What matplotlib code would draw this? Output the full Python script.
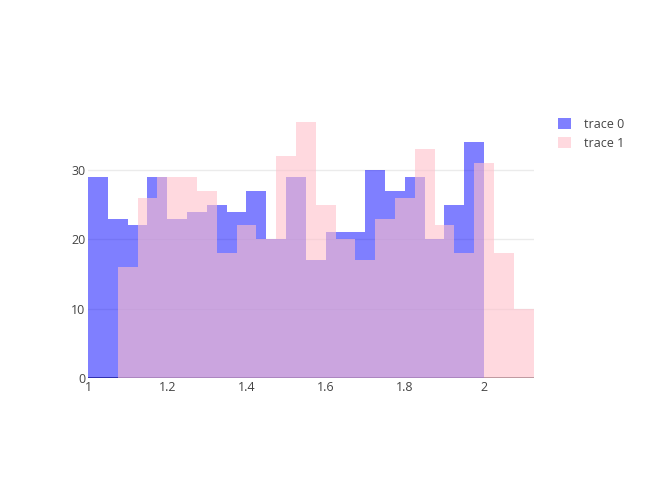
import numpy as np
import matplotlib
matplotlib.use('Agg')
import matplotlib.pyplot as plt

plt.rcParams['font.family'] = ['Open Sans', 'DejaVu Sans']

# bin setup (both traces use 0.05 wide bins)
BIN_SIZE = 0.05
trace0_start = 1.0
trace1_start = 1.075

trace0_counts = [29, 23, 22, 29, 23, 24, 25, 24, 27, 20,
                 29, 17, 21, 21, 30, 27, 29, 20, 25, 34]
trace1_counts = [16, 26, 29, 29, 27, 18, 22, 20, 32, 37,
                 25, 20, 17, 23, 26, 33, 22, 18, 31, 18, 10]

x_ticks = [1, 1.2, 1.4, 1.6, 1.8, 2]
x_tick_labels = ['1', '1.2', '1.4', '1.6', '1.8', '2']
y_ticks = [0, 10, 20, 30]

W, H = 651, 496
fig = plt.figure(figsize=(W / 100, H / 100), dpi=100)
fig.patch.set_facecolor('white')

# plot area in pixels: x 88..533.5, y 108..378
ax = fig.add_axes([88 / W, (H - 378) / H, (533.5 - 88) / W, (378 - 108) / H])
ax.set_facecolor('white')

edges0 = trace0_start + BIN_SIZE * np.arange(len(trace0_counts) + 1)
edges1 = trace1_start + BIN_SIZE * np.arange(len(trace1_counts) + 1)

# zeroline sits under the traces, like plotly does it
ax.axhline(0, color='#444444', lw=1.2, zorder=1)
for y in y_ticks[1:]:
    ax.axhline(y, color='#ebebeb', lw=1, zorder=0)

# stairs draws each trace as one shape, so no seams between bins
s0 = ax.stairs(trace0_counts, edges0, fill=True, color='blue', alpha=0.5,
               linewidth=0, zorder=2, label='trace 0')
s1 = ax.stairs(trace1_counts, edges1, fill=True, color='pink', alpha=0.6,
               linewidth=0, zorder=3, label='trace 1')

ax.set_xlim(1.0, 2.125)
ax.set_ylim(0, 38.95)
ax.set_xticks(x_ticks)
ax.set_xticklabels(x_tick_labels)
ax.set_yticks(y_ticks)
ax.tick_params(axis='both', length=0, labelsize=9, colors='#444444')
ax.tick_params(axis='x', pad=2)
ax.tick_params(axis='y', pad=2)
for s in ax.spines.values():
    s.set_visible(False)

leg = fig.legend(handles=[s0, s1], loc='upper left',
                 bbox_to_anchor=(553 / W, 1 - 113 / H), frameon=False,
                 fontsize=9, handlelength=1.0, handleheight=1.0,
                 handletextpad=1.1, labelspacing=0.45, borderaxespad=0)
for t in leg.get_texts():
    t.set_color('#444444')

fig.savefig('out.png', dpi=100, facecolor='white')
